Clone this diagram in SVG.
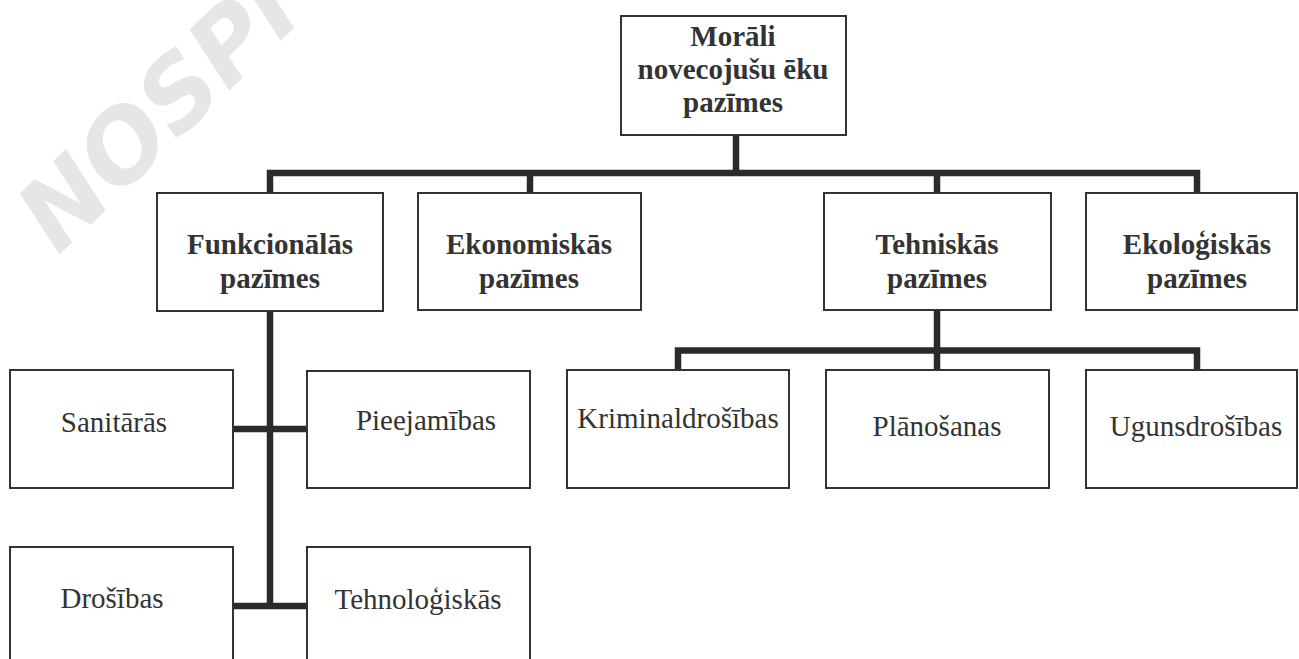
<svg xmlns="http://www.w3.org/2000/svg" width="1299" height="659" viewBox="0 0 1299 659">
<style>
.box{fill:#fff;stroke:#333;stroke-width:2}
.b{font-weight:bold;font-size:29px;fill:#333;text-anchor:middle}
.r{font-size:29px;fill:#333;text-anchor:middle}
.c{fill:none;stroke:#2b2b2b;stroke-width:6.5;stroke-linejoin:miter;stroke-linecap:butt}
.wm{font-weight:bold;font-style:italic;font-size:98px;fill:#e6e6e6}
</style>
<rect width="1299" height="659" fill="#fff"/>
<text class="wm" font-family="DejaVu Sans, sans-serif" transform="translate(58,256) rotate(-44)">NOSPI</text>
<g id="connectors">
<path class="c" d="M736,135 V173"/>
<path class="c" d="M270,193 V173 H1197 V193"/>
<path class="c" d="M530,173 V193"/>
<path class="c" d="M937,173 V193"/>
<path class="c" d="M270,311 V609"/>
<path class="c" d="M233,429 H307"/>
<path class="c" d="M233,606 H307"/>
<path class="c" d="M937,310 V350.5"/>
<path class="c" d="M678,370 V350.5 H1197 V370"/>
<path class="c" d="M937,350 V370"/>
</g>
<g font-family="Liberation Serif, Times New Roman, DejaVu Serif, serif">
<g id="n-root"><rect class="box" x="621" y="16" width="225" height="119"/>
<text class="b" x="733" y="46">Morāli</text><text class="b" x="733" y="79">novecojušu ēku</text><text class="b" x="733" y="112">pazīmes</text></g>
<g id="n-funk"><rect class="box" x="157" y="193" width="226" height="118"/>
<text class="b" x="270" y="254">Funkcionālās</text><text class="b" x="270" y="288">pazīmes</text></g>
<g id="n-ekon"><rect class="box" x="418" y="193" width="223" height="117"/>
<text class="b" x="529" y="254">Ekonomiskās</text><text class="b" x="529" y="288">pazīmes</text></g>
<g id="n-tehn"><rect class="box" x="824" y="193" width="227" height="117"/>
<text class="b" x="937" y="254">Tehniskās</text><text class="b" x="937" y="288">pazīmes</text></g>
<g id="n-ekol"><rect class="box" x="1086" y="193" width="211" height="117"/>
<text class="b" x="1197" y="254">Ekoloģiskās</text><text class="b" x="1197" y="288">pazīmes</text></g>
<g id="n-sanit"><rect class="box" x="10" y="370" width="223" height="118"/>
<text class="r" x="114" y="432">Sanitārās</text></g>
<g id="n-pieej"><rect class="box" x="307" y="371" width="223" height="117"/>
<text class="r" x="426" y="430">Pieejamības</text></g>
<g id="n-krim"><rect class="box" x="567" y="370" width="222" height="118"/>
<text class="r" x="678" y="428">Kriminaldrošības</text></g>
<g id="n-plan"><rect class="box" x="826" y="370" width="223" height="118"/>
<text class="r" x="937" y="436">Plānošanas</text></g>
<g id="n-ugun"><rect class="box" x="1086" y="370" width="211" height="118"/>
<text class="r" x="1196" y="436">Ugunsdrošības</text></g>
<g id="n-dros"><rect class="box" x="10" y="547" width="223" height="140"/>
<text class="r" x="112" y="608">Drošības</text></g>
<g id="n-tehnol"><rect class="box" x="307" y="547" width="223" height="140"/>
<text class="r" x="418" y="609">Tehnoloģiskās</text></g>
</g>
</svg>
